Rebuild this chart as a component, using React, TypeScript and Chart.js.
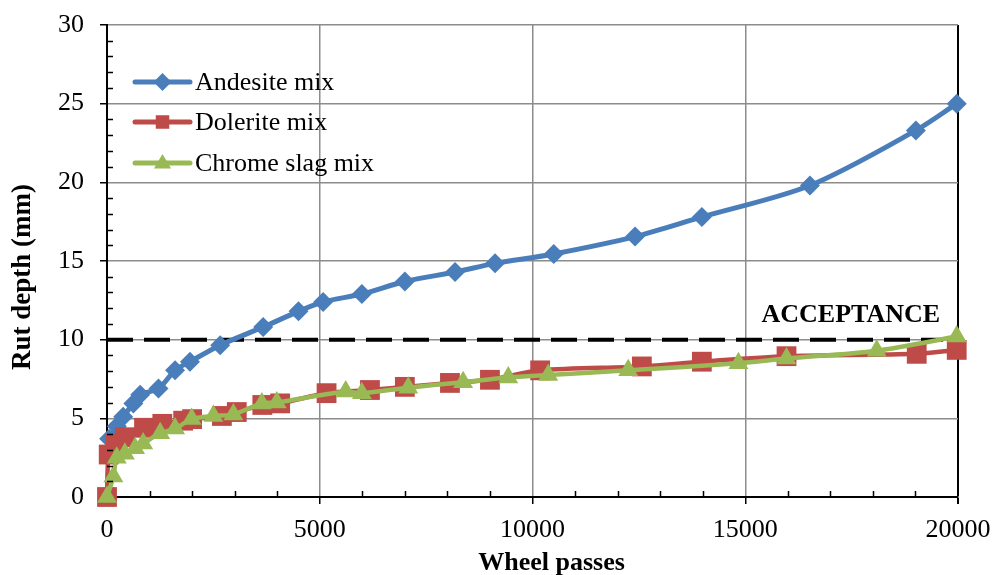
import React, { useEffect, useRef } from "react";
import { Chart, registerables } from "chart.js";

Chart.register(...registerables);

// ---------- data ----------
const seriesNames = ["Andesite mix", "Dolerite mix", "Chrome slag mix"];

const andesitePasses = [50, 230, 380, 620, 780, 1210, 1600, 1950, 2660, 3670, 4500, 5080, 5990, 7000, 8180, 9120, 10500, 12410, 13980, 16520, 19010, 19970];
const andesiteRut = [3.7, 4.5, 5.1, 5.95, 6.5, 6.9, 8.05, 8.6, 9.65, 10.8, 11.8, 12.4, 12.9, 13.7, 14.3, 14.85, 15.45, 16.55, 17.8, 19.8, 23.3, 25.0];

const doleritePasses = [0, 40, 200, 420, 870, 1300, 1790, 2000, 2700, 3050, 3650, 4070, 5160, 6180, 7000, 8060, 9000, 10180, 12570, 13980, 15970, 19030, 19970];
const doleriteRut = [0, 2.7, 3.4, 3.8, 4.4, 4.65, 4.85, 4.95, 5.15, 5.4, 5.85, 5.95, 6.6, 6.8, 7.0, 7.25, 7.45, 8.05, 8.3, 8.6, 8.95, 9.1, 9.35];

const chromePasses = [0, 150, 230, 420, 660, 850, 1250, 1600, 1990, 2500, 2970, 3640, 3990, 5610, 5990, 7080, 8370, 9430, 10370, 12250, 14840, 15970, 18090, 19970];
const chromeRut = [0, 1.3, 2.5, 2.75, 3.1, 3.4, 4.05, 4.35, 4.95, 5.15, 5.25, 5.95, 6.0, 6.7, 6.6, 6.95, 7.3, 7.6, 7.75, 8.05, 8.5, 8.8, 9.3, 10.2];

const acceptanceLevel = 10;
const acceptanceLabel = "ACCEPTANCE";
const acceptancePasses = [0, 19650];

const xTickValues = [0, 5000, 10000, 15000, 20000];
const yTickValues = [0, 5, 10, 15, 20, 25, 30];
const xMinorStep = 1000;
const yMinorStep = 1;

const xTitle = "Wheel passes";
const yTitle = "Rut depth (mm)";

// ---------- styles ----------
const FONT = "'Liberation Serif', 'Times New Roman', serif";
const BLUE = "#4A7EBB";
const RED = "#BE4B48";
const GREEN = "#98B954";
const GRID = "#8C8C8C";

const markerStyles = ["diamond", "square", "triangle"];
const colors = [BLUE, RED, GREEN];

function drawMarker(ctx: CanvasRenderingContext2D, kind: string, x: number, y: number, r: number, color: string) {
  ctx.save();
  ctx.fillStyle = color;
  ctx.beginPath();
  if (kind === "diamond") {
    ctx.moveTo(x, y - r);
    ctx.lineTo(x + r, y);
    ctx.lineTo(x, y + r);
    ctx.lineTo(x - r, y);
  } else if (kind === "square") {
    ctx.rect(x - r * 0.75, y - r * 0.75, r * 1.5, r * 1.5);
  } else {
    ctx.moveTo(x, y - r);
    ctx.lineTo(x + r * 0.95, y + r * 0.6);
    ctx.lineTo(x - r * 0.95, y + r * 0.6);
  }
  ctx.closePath();
  ctx.fill();
  ctx.restore();
}

const extrasPlugin = {
  id: "extras",
  afterDraw(chart: any) {
    const ctx: CanvasRenderingContext2D = chart.ctx;
    const xs = chart.scales.x;
    const ys = chart.scales.y;
    const area = chart.chartArea;

    // minor ticks (inside)
    ctx.save();
    ctx.strokeStyle = "#000";
    ctx.lineWidth = 1.5;
    ctx.beginPath();
    for (let v = yMinorStep; v < 30; v += yMinorStep) {
      if (v % 5 === 0) continue;
      const py = Math.round(ys.getPixelForValue(v)) + 0.5;
      ctx.moveTo(area.left, py);
      ctx.lineTo(area.left + 6, py);
    }
    for (let v = xMinorStep; v < 20000; v += xMinorStep) {
      if (v % 5000 === 0) continue;
      const px = Math.round(xs.getPixelForValue(v)) + 0.5;
      ctx.moveTo(px, area.bottom);
      ctx.lineTo(px, area.bottom - 6);
    }
    ctx.stroke();
    ctx.restore();

    // axis titles
    ctx.save();
    ctx.fillStyle = "#000";
    ctx.font = "bold 26px " + FONT;
    ctx.textAlign = "center";
    ctx.textBaseline = "alphabetic";
    ctx.fillText(xTitle, (area.left + area.right) / 2 + 19, 570);
    ctx.restore();

    ctx.save();
    ctx.fillStyle = "#000";
    ctx.font = "bold 27px " + FONT;
    ctx.textAlign = "center";
    ctx.textBaseline = "alphabetic";
    ctx.translate(30, (area.top + area.bottom) / 2 + 16);
    ctx.rotate(-Math.PI / 2);
    ctx.fillText(yTitle, 0, 0);
    ctx.restore();

    // acceptance label
    ctx.save();
    ctx.font = "bold 26px " + FONT;
    ctx.fillStyle = "#000";
    ctx.textAlign = "right";
    ctx.textBaseline = "alphabetic";
    ctx.fillText(acceptanceLabel, xs.getPixelForValue(19580), ys.getPixelForValue(acceptanceLevel) - 18);
    ctx.restore();

    // legend
    const lx0 = 135, lx1 = 190, tx = 195;
    const rows = [82, 122, 163];
    seriesNames.forEach((name, i) => {
      const y = rows[i];
      ctx.save();
      ctx.strokeStyle = colors[i];
      ctx.lineWidth = 5;
      ctx.lineCap = "round";
      ctx.beginPath();
      ctx.moveTo(lx0, y);
      ctx.lineTo(lx1, y);
      ctx.stroke();
      ctx.restore();
      drawMarker(ctx, markerStyles[i], (lx0 + lx1) / 2, y, 9, colors[i]);
      ctx.save();
      ctx.font = "26px " + FONT;
      ctx.fillStyle = "#000";
      ctx.textAlign = "left";
      ctx.textBaseline = "middle";
      ctx.fillText(name, tx, y + 1);
      ctx.restore();
    });
  },
};

const toPoints = (xs: number[], ys: number[]) => xs.map((x, i) => ({ x, y: ys[i] }));

export default function App() {
  const ref = useRef<HTMLCanvasElement | null>(null);

  useEffect(() => {
    if (!ref.current) return;
    const chart = new Chart(ref.current, {
      type: "line",
      data: {
        datasets: [
          {
            label: seriesNames[0],
            data: toPoints(andesitePasses, andesiteRut),
            borderColor: BLUE,
            backgroundColor: BLUE,
            borderWidth: 5,
            pointStyle: "rectRot",
            pointRadius: 10,
            pointBorderWidth: 0,
            tension: 0.3,
            clip: false,
            order: 2,
          },
          {
            label: seriesNames[1],
            data: toPoints(doleritePasses, doleriteRut),
            borderColor: RED,
            backgroundColor: RED,
            borderWidth: 4.5,
            pointStyle: "rect",
            pointRadius: 14,
            pointBorderWidth: 0,
            tension: 0.3,
            clip: false,
            order: 1,
          },
          {
            label: seriesNames[2],
            data: toPoints(chromePasses, chromeRut),
            borderColor: GREEN,
            backgroundColor: GREEN,
            borderWidth: 4.5,
            pointStyle: "triangle",
            pointRadius: 11.5,
            pointBorderWidth: 0,
            tension: 0.3,
            clip: false,
            order: 0,
          },
          {
            label: acceptanceLabel,
            data: acceptancePasses.map((x) => ({ x, y: acceptanceLevel })),
            borderColor: "#000",
            borderWidth: 4,
            borderDash: [26, 11],
            pointRadius: 0,
            tension: 0,
            order: 3,
          },
        ],
      },
      options: {
        responsive: false,
        animation: false,
        devicePixelRatio: 1,
        layout: { padding: { top: 25, right: 35, left: 0, bottom: 0 } },
        plugins: { legend: { display: false }, tooltip: { enabled: false } },
        scales: {
          x: {
            type: "linear",
            min: 0,
            max: 20000,
            afterBuildTicks: (s: any) => {
              s.ticks = xTickValues.map((v) => ({ value: v }));
            },
            afterFit: (s: any) => {
              s.height = 78;
              s.paddingLeft = 0;
              s.paddingRight = 0;
            },
            ticks: {
              autoSkip: false,
              maxRotation: 0,
              padding: 11,
              color: "#000",
              font: { family: FONT, size: 26 },
              callback: (v: any) => String(v),
            },
            grid: {
              color: (c: any) => (c.tick && c.tick.value === 20000 ? "#000" : GRID),
              lineWidth: (c: any) => (c.tick && c.tick.value === 20000 ? 2 : 1.5),
              tickColor: "#000",
              tickLength: 7,
            },
            border: { color: "#000", width: 2 },
            title: { display: false, text: xTitle },
          },
          y: {
            type: "linear",
            min: 0,
            max: 30,
            afterBuildTicks: (s: any) => {
              s.ticks = yTickValues.map((v) => ({ value: v }));
            },
            afterFit: (s: any) => {
              s.width = 107;
              s.paddingTop = 0;
              s.paddingBottom = 0;
            },
            ticks: {
              padding: 16,
              color: "#000",
              font: { family: FONT, size: 26 },
            },
            grid: {
              color: GRID,
              lineWidth: 1.5,
              tickColor: "#000",
              tickLength: 7,
            },
            border: { color: "#000", width: 2 },
            title: { display: false, text: yTitle },
          },
        },
      },
      plugins: [extrasPlugin],
    } as any);
    return () => chart.destroy();
  }, []);

  return (
    <div style={{ position: "absolute", left: 0, top: 0, width: 993, height: 575, background: "#fff" }}>
      <canvas ref={ref} width={993} height={575} style={{ width: 993, height: 575, display: "block" }} />
    </div>
  );
}
